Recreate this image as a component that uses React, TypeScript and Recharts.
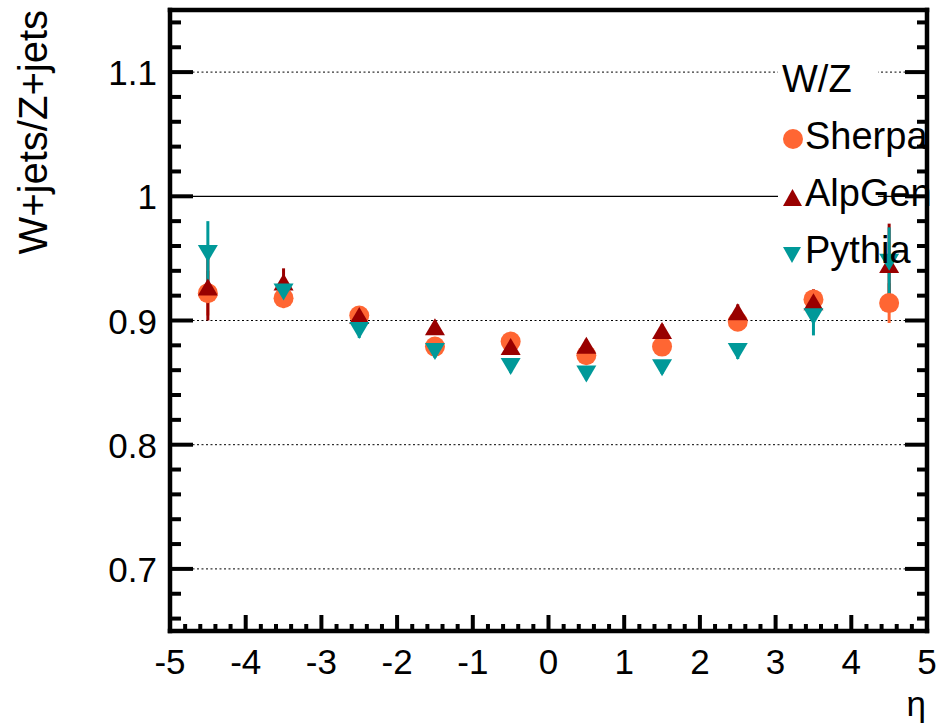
import React from 'react';
import {
  ScatterChart,
  Scatter,
  XAxis,
  YAxis,
  ErrorBar,
  ReferenceLine,
  Legend,
} from 'recharts';

// ---- data ----
const etaBins = [-4.5, -3.5, -2.5, -1.5, -0.5, 0.5, 1.5, 2.5, 3.5, 4.5];
const sherpaValues = [0.922, 0.918, 0.904, 0.879, 0.883, 0.872, 0.879, 0.899, 0.917, 0.914];
const sherpaErrors = [0.018, 0.008, 0.006, 0.005, 0.005, 0.005, 0.005, 0.006, 0.008, 0.016];
const alpgenValues = [0.927, 0.931, 0.904, 0.895, 0.879, 0.880, 0.892, 0.907, 0.915, 0.945];
const alpgenErrors = [0.027, 0.011, 0.006, 0.005, 0.005, 0.005, 0.005, 0.006, 0.010, 0.033];
const pythiaValues = [0.954, 0.923, 0.892, 0.875, 0.863, 0.857, 0.862, 0.875, 0.903, 0.947];
const pythiaErrors = [0.026, 0.009, 0.006, 0.005, 0.005, 0.005, 0.005, 0.006, 0.015, 0.028];

const xMajorTicks = [-5, -4, -3, -2, -1, 0, 1, 2, 3, 4, 5];
const yMajorTicks = [0.7, 0.8, 0.9, 1.0, 1.1];
const yTickLabels = ['0.7', '0.8', '0.9', '1', '1.1'];
const dottedGridValues = [0.7, 0.8, 0.9, 1.1];
const solidLineValue = 1.0;
const xDomain = [-5, 5];
const yDomain = [0.65, 1.15];
const xMinorStep = 0.2;
const yMinorStep = 0.02;

const seriesNames = ['Sherpa', 'AlpGen', 'Pythia'];
const legendHeader = 'W/Z';
const yTitle = 'W+jets/Z+jets';
const xTitle = 'η';

const COLORS = { Sherpa: '#ff6633', AlpGen: '#990000', Pythia: '#009999' };
const FONT = '"Liberation Sans", Arial, Helvetica, sans-serif';

function stepTicks(lo: number, hi: number, step: number) {
  const out: number[] = [];
  const n = Math.round((hi - lo) / step);
  for (let i = 0; i <= n; i++) out.push(Math.round((lo + i * step) * 1000) / 1000);
  return out;
}
const xAllTicks = stepTicks(-5, 5, xMinorStep);
const yAllTicks = stepTicks(0.66, 1.14, yMinorStep);

const build = (vals: number[], errs: number[]) =>
  etaBins.map((x, i) => ({ x, y: vals[i], err: errs[i] }));
const sherpaData = build(sherpaValues, sherpaErrors);
const alpgenData = build(alpgenValues, alpgenErrors);
const pythiaData = build(pythiaValues, pythiaErrors);

const isXMajor = (v: number) => xMajorTicks.some((t) => Math.abs(t - v) < 1e-6);
const yMajorIndex = (v: number) => yMajorTicks.findIndex((t) => Math.abs(t - v) < 1e-6);

const TICK_W = 4;

const BottomTick = (p: any) => {
  const { x, y, payload } = p;
  const major = isXMajor(payload.value);
  return (
    <g>
      <line x1={x} x2={x} y1={y} y2={y - (major ? 16 : 7)} stroke="#000" strokeWidth={TICK_W} />
      {major && (
        <text x={x} y={y + 43} textAnchor="middle" fontSize={35} fontFamily={FONT} fill="#000">
          {String(payload.value)}
        </text>
      )}
    </g>
  );
};
const TopTick = (p: any) => {
  const { x, y, payload } = p;
  const major = isXMajor(payload.value);
  return <line x1={x} x2={x} y1={y} y2={y + (major ? 16 : 7)} stroke="#000" strokeWidth={TICK_W} />;
};
const LeftTick = (p: any) => {
  const { x, y, payload } = p;
  const idx = yMajorIndex(payload.value);
  const major = idx >= 0;
  return (
    <g>
      <line x1={x} x2={x + (major ? 23 : 11)} y1={y} y2={y} stroke="#000" strokeWidth={TICK_W} />
      {major && (
        <text x={x - 13} y={y + 13} textAnchor="end" fontSize={35} fontFamily={FONT} fill="#000">
          {yTickLabels[idx]}
        </text>
      )}
    </g>
  );
};
const RightTick = (p: any) => {
  const { x, y, payload } = p;
  const major = yMajorIndex(payload.value) >= 0;
  return <line x1={x} x2={x - (major ? 22 : 10)} y1={y} y2={y} stroke="#000" strokeWidth={TICK_W} />;
};

const Circle = (p: any) => <circle cx={p.cx} cy={p.cy} r={10} fill={COLORS.Sherpa} />;
const TriUp = (p: any) => (
  <polygon
    points={`${p.cx - 10},${p.cy + 8.5} ${p.cx + 10},${p.cy + 8.5} ${p.cx},${p.cy - 8.5}`}
    fill={COLORS.AlpGen}
  />
);
const TriDown = (p: any) => (
  <polygon
    points={`${p.cx - 10},${p.cy - 8.5} ${p.cx + 10},${p.cy - 8.5} ${p.cx},${p.cy + 8.5}`}
    fill={COLORS.Pythia}
  />
);

const LegendBox = () => {
  const rows = [
    { name: seriesNames[0], marker: <circle cx={15} cy={99} r={10} fill={COLORS.Sherpa} />, base: 109 },
    {
      name: seriesNames[1],
      marker: <polygon points="5,166 24,166 14.5,149" fill={COLORS.AlpGen} />,
      base: 166,
    },
    {
      name: seriesNames[2],
      marker: <polygon points="5,207 23,207 14,223" fill={COLORS.Pythia} />,
      base: 223,
    },
  ];
  return (
    <svg width={160} height={240} style={{ display: 'block', overflow: 'visible' }}>
      <rect x={0} y={0} width={100} height={240} fill="#fff" />
      <text x={4} y={52} fontSize={38} fontFamily={FONT} fill="#000">
        {legendHeader}
      </text>
      {rows.map((r) => (
        <g key={r.name}>
          {r.marker}
          <text x={27} y={r.base} fontSize={38} fontFamily={FONT} fill="#000">
            {r.name}
          </text>
        </g>
      ))}
    </svg>
  );
};

const axisLine = { stroke: '#000', strokeWidth: 4.5, strokeLinecap: 'square' as const };

export default function App() {
  return (
    <div style={{ position: 'absolute', left: 0, top: 0, width: 940, height: 726, background: '#fff', overflow: 'hidden' }}>
      <ScatterChart width={940} height={726} margin={{ top: 0, right: 0, bottom: 0, left: 0 }}>
        <XAxis
          xAxisId={0}
          type="number"
          dataKey="x"
          domain={xDomain}
          ticks={xAllTicks}
          interval={0}
          allowDataOverflow
          height={95}
          tickSize={0}
          tickMargin={0}
          tick={<BottomTick />}
          axisLine={axisLine}
          tickLine={false}
        />
        <XAxis
          xAxisId="top"
          orientation="top"
          type="number"
          domain={xDomain}
          ticks={xAllTicks}
          interval={0}
          allowDataOverflow
          height={10}
          tickSize={0}
          tickMargin={0}
          tick={<TopTick />}
          axisLine={axisLine}
          tickLine={false}
        />
        <YAxis
          yAxisId={0}
          type="number"
          dataKey="y"
          domain={yDomain}
          ticks={yAllTicks}
          interval={0}
          allowDataOverflow
          width={170}
          tickSize={0}
          tickMargin={0}
          tick={<LeftTick />}
          axisLine={axisLine}
          tickLine={false}
        />
        <YAxis
          yAxisId="right"
          orientation="right"
          type="number"
          domain={yDomain}
          ticks={yAllTicks}
          interval={0}
          allowDataOverflow
          width={13}
          tickSize={0}
          tickMargin={0}
          tick={<RightTick />}
          axisLine={axisLine}
          tickLine={false}
        />
        {dottedGridValues.map((v) => (
          <ReferenceLine key={v} y={v} stroke="#000" strokeWidth={1} strokeDasharray="2 2.5" />
        ))}
        <ReferenceLine y={solidLineValue} stroke="#000" strokeWidth={1.2} />
        <Scatter name={seriesNames[0]} data={sherpaData} shape={<Circle />} fill={COLORS.Sherpa} isAnimationActive={false}>
          <ErrorBar dataKey="err" direction="y" width={0} stroke={COLORS.Sherpa} strokeWidth={3} />
        </Scatter>
        <Scatter name={seriesNames[1]} data={alpgenData} shape={<TriUp />} fill={COLORS.AlpGen} isAnimationActive={false}>
          <ErrorBar dataKey="err" direction="y" width={0} stroke={COLORS.AlpGen} strokeWidth={3} />
        </Scatter>
        <Scatter name={seriesNames[2]} data={pythiaData} shape={<TriDown />} fill={COLORS.Pythia} isAnimationActive={false}>
          <ErrorBar dataKey="err" direction="y" width={0} stroke={COLORS.Pythia} strokeWidth={3} />
        </Scatter>
        <Legend
          layout="horizontal"
          verticalAlign="middle"
          align="center"
          content={() => <LegendBox />}
          wrapperStyle={{ position: 'absolute', left: 778, top: 40, width: 160, height: 240 }}
        />
        <text
          transform="translate(47,10) rotate(-90)"
          textAnchor="end"
          fontSize={40}
          fontFamily={FONT}
          fill="#000"
        >
          {yTitle}
        </text>
        <text x={926} y={716} textAnchor="end" fontSize={35} fontFamily={FONT} fill="#000">
          {xTitle}
        </text>
      </ScatterChart>
    </div>
  );
}
